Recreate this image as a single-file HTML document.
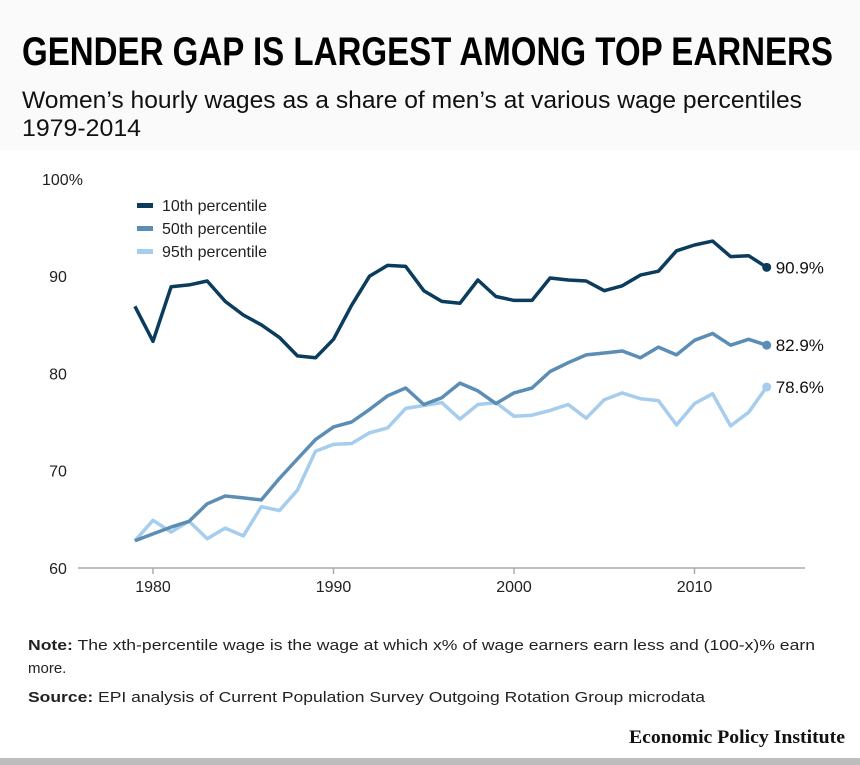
<!DOCTYPE html>
<html><head><meta charset="utf-8"><style>
html,body{margin:0;padding:0;background:#fff;}
svg{display:block;font-family:"Liberation Sans",sans-serif;}
</style></head><body>
<svg width="860" height="765" viewBox="0 0 860 765">
<rect x="0" y="0" width="860" height="150" fill="#fafafa"/>
<text x="22" y="65" font-family="Liberation Sans Narrow, Liberation Sans, sans-serif" font-weight="bold" font-size="40" textLength="811" lengthAdjust="spacingAndGlyphs" fill="#000">GENDER GAP IS LARGEST AMONG TOP EARNERS</text>
<text x="22" y="108" font-family="Liberation Sans Narrow, Liberation Sans, sans-serif" font-size="24" textLength="780" lengthAdjust="spacingAndGlyphs" fill="#111">Women’s hourly wages as a share of men’s at various wage percentiles</text>
<text x="22" y="136" font-family="Liberation Sans Narrow, Liberation Sans, sans-serif" font-size="24" textLength="119" lengthAdjust="spacingAndGlyphs" fill="#111">1979-2014</text>
<g id="plot"></g>
<text x="28" y="650" font-size="15" fill="#222" textLength="787" lengthAdjust="spacingAndGlyphs"><tspan font-weight="bold">Note:</tspan> The xth-percentile wage is the wage at which x% of wage earners earn less and (100-x)% earn</text>
<text x="28" y="673" font-size="15" fill="#222">more.</text>
<text x="28" y="702" font-size="15" fill="#222" textLength="677" lengthAdjust="spacingAndGlyphs"><tspan font-weight="bold">Source:</tspan> EPI analysis of Current Population Survey Outgoing Rotation Group microdata</text>
<text x="845" y="743" text-anchor="end" font-family="Liberation Serif, serif" font-weight="bold" font-size="19" textLength="216" lengthAdjust="spacingAndGlyphs" fill="#111">Economic Policy Institute</text>
<rect x="0" y="758" width="860" height="7" fill="#bdbdbd"/>
</svg>
<script>
const years = [];
for (let y = 1979; y <= 2014; y++) years.push(y);
const p10 = [86.9,83.3,88.9,89.1,89.5,87.4,86.0,85.0,83.7,81.8,81.6,83.5,87.0,90.0,91.1,91.0,88.5,87.4,87.2,89.6,87.9,87.5,87.5,89.8,89.6,89.5,88.5,89.0,90.1,90.5,92.6,93.2,93.6,92.0,92.1,90.9];
const p50 = [62.8,63.5,64.2,64.8,66.6,67.4,67.2,67.0,69.2,71.2,73.2,74.5,75.0,76.3,77.7,78.5,76.8,77.5,79.0,78.2,76.9,78.0,78.5,80.2,81.1,81.9,82.1,82.3,81.6,82.7,81.9,83.4,84.1,82.9,83.5,82.9];
const p95 = [62.8,64.9,63.7,64.8,63.0,64.1,63.3,66.3,65.9,68.0,72.0,72.7,72.8,73.9,74.4,76.4,76.7,77.0,75.3,76.8,77.0,75.6,75.7,76.2,76.8,75.4,77.3,78.0,77.4,77.2,74.7,76.9,77.9,74.6,76.0,78.6];
const yTicks = [60,70,80,90,100];
const yTickLabels = ["60","70","80","90","100%"];
const xTicks = [1980,1990,2000,2010];
const seriesNames = ["10th percentile","50th percentile","95th percentile"];
const endLabels = ["90.9%","82.9%","78.6%"];

const NS = "http://www.w3.org/2000/svg";
const g = document.getElementById("plot");
const xs = v => 153 + (v - 1980) * 18.05;
const ys = v => 568 - (v - 60) * 9.73;
function el(tag, attrs, parent) {
  const e = document.createElementNS(NS, tag);
  for (const k in attrs) e.setAttribute(k, attrs[k]);
  (parent || g).appendChild(e);
  return e;
}
yTicks.forEach((t, i) => {
  const tx = el("text", {x: i === 4 ? 42 : 58, y: ys(t) + 6, "font-size": 16, fill: "#222", "text-anchor": i === 4 ? "start" : "middle"});
  tx.textContent = yTickLabels[i];
  
  
});
const axis = el("line", {x1: 78, x2: 805, y1: 568, y2: 568, stroke: "#aaa", "stroke-width": 1.5});


xTicks.forEach(t => {
  const tk = el("line", {x1: xs(t), x2: xs(t), y1: 568, y2: 574, stroke: "#aaa", "stroke-width": 1.5});
  
  
  const tx = el("text", {x: xs(t), y: 592, "font-size": 16, fill: "#222", "text-anchor": "middle"});
  tx.textContent = t;
  
  
});
const series = [p10, p50, p95];
const colors = ["#0b3c5d", "#5b8db5", "#a6cdee"];
const names = ["line-10th-percentile", "line-50th-percentile", "line-95th-percentile"];
[2,1,0].forEach(s => {
  const d = series[s].map((v, i) => (i ? "L" : "M") + xs(years[i]).toFixed(1) + "," + ys(v).toFixed(1)).join("");
  const p = el("path", {d, fill: "none", stroke: colors[s], "stroke-width": 3.5, "stroke-linejoin": "round"});
  
  
  const last = series[s][series[s].length - 1];
  const c = el("circle", {cx: xs(2014), cy: ys(last), r: 4.5, fill: colors[s]});
  
  
  const t = el("text", {x: xs(2014) + 9, y: ys(last) + 6, "font-size": 17, fill: "#111"});
  t.textContent = endLabels[s];
  
  
});
seriesNames.forEach((n, i) => {
  const y = 206 + i * 23;
  const sw = el("rect", {x: 137, y: y - 3, width: 16, height: 5, fill: colors[i]});
  
  
  const t = el("text", {x: 162, y: y + 5, "font-size": 16, fill: "#222"});
  t.textContent = n;
  
  
});
</script>
</body></html>
